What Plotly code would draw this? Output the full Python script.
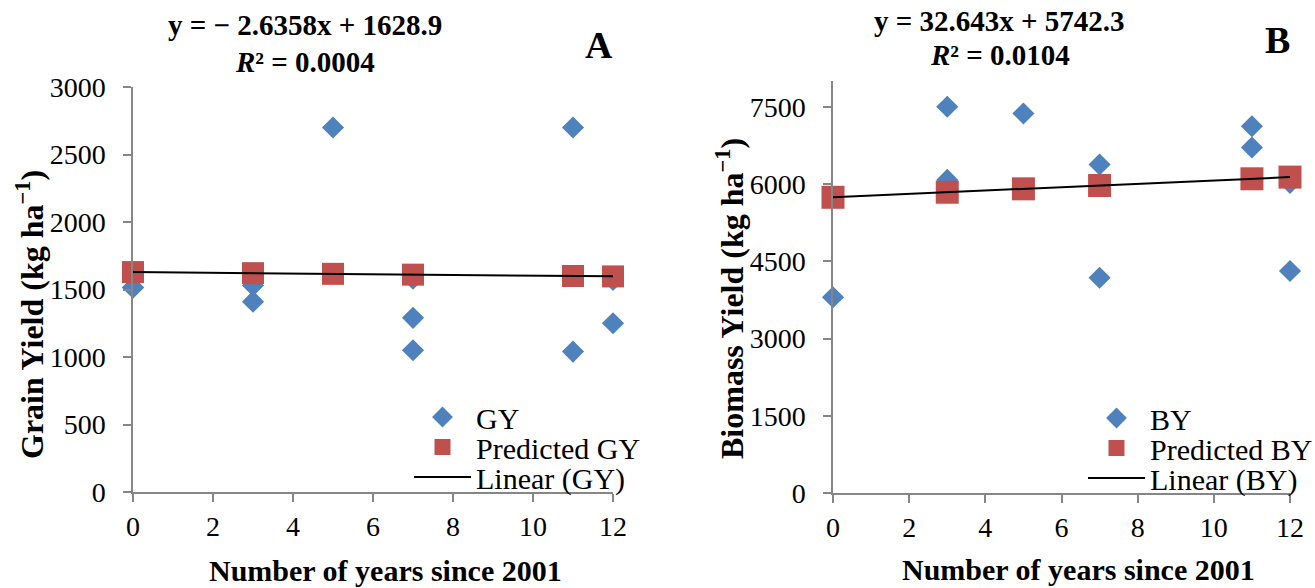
import plotly.graph_objects as go

W, H = 1315, 588

# ---------------- data ----------------
years_gy = [0, 0, 3, 3, 5, 7, 7, 7, 11, 11, 12, 12]
gy = [1515, 1515, 1530, 1410, 2700, 1580, 1290, 1050, 2700, 1040, 1570, 1250]
years_pred = [0, 3, 5, 7, 11, 12]
pred_gy = [1629, 1621, 1616, 1610, 1600, 1597]
trend_x = [0, 12]
trend_gy = [1628.9, 1597.3]

years_by = [0, 3, 3, 5, 7, 7, 11, 11, 12, 12]
by = [3800, 7500, 6080, 7370, 6380, 4180, 7120, 6710, 4310, 6020]
pred_by = [5742, 5840, 5906, 5971, 6101, 6134]
trend_by = [5742.3, 6134.0]

x_ticks = [0, 2, 4, 6, 8, 10, 12]
gy_ticks = [0, 500, 1000, 1500, 2000, 2500, 3000]
by_ticks = [0, 1500, 3000, 4500, 6000, 7500]

eq_a = ["<b>y = − 2.6358x + 1628.9</b>", "<b><i>R</i>² = 0.0004</b>"]
eq_b = ["<b>y = 32.643x + 5742.3</b>", "<b><i>R</i>² = 0.0104</b>"]

BLUE = "#4F81BD"
RED = "#C0504D"
AX = "#868686"
FONT = "Liberation Serif"


def px(x):
    return x / W


def py(y):
    return 1 - y / H


fig = go.Figure()

# Panel A
fig.add_trace(go.Scatter(x=years_gy, y=gy, mode="markers", name="GY", cliponaxis=False,
                         marker=dict(symbol="diamond", size=17, color=BLUE),
                         xaxis="x", yaxis="y", legend="legend", showlegend=True))
fig.add_trace(go.Scatter(x=years_pred, y=pred_gy, mode="markers", name="Predicted GY",
                         cliponaxis=False,
                         marker=dict(symbol="square", size=22, color=RED),
                         xaxis="x", yaxis="y", legend="legend2", showlegend=True))
fig.add_trace(go.Scatter(x=trend_x, y=trend_gy, mode="lines", name="Linear (GY)",
                         line=dict(color="black", width=2),
                         xaxis="x", yaxis="y", legend="legend3", showlegend=True))

# Panel B
fig.add_trace(go.Scatter(x=years_by, y=by, mode="markers", name="BY", cliponaxis=False,
                         marker=dict(symbol="diamond", size=17, color=BLUE),
                         xaxis="x2", yaxis="y2", legend="legend4", showlegend=True))
fig.add_trace(go.Scatter(x=years_pred, y=pred_by, mode="markers", name="Predicted BY",
                         cliponaxis=False,
                         marker=dict(symbol="square", size=23, color=RED),
                         xaxis="x2", yaxis="y2", legend="legend5", showlegend=True))
fig.add_trace(go.Scatter(x=trend_x, y=trend_by, mode="lines", name="Linear (BY)",
                         line=dict(color="black", width=2),
                         xaxis="x2", yaxis="y2", legend="legend6", showlegend=True))

axis_common = dict(showline=True, linecolor=AX, linewidth=1.5, ticks="outside",
                   tickcolor=AX, ticklen=8, tickwidth=1.5, showgrid=False,
                   zeroline=False, tickfont=dict(family=FONT, size=28, color="black"),
                   fixedrange=True, automargin=False)

legend_common = dict(xanchor="left", yanchor="middle", visible=True,
                     font=dict(family=FONT, size=30, color="black"),
                     bgcolor="rgba(0,0,0,0)", tracegroupgap=0, itemsizing="trace",
                     itemwidth=57)

fig.update_layout(
    width=W, height=H,
    showlegend=True,
    margin=dict(l=0, r=0, t=0, b=0, autoexpand=False),
    paper_bgcolor="white", plot_bgcolor="white",
    font=dict(family=FONT, color="black"),
    xaxis=dict(domain=[px(133), px(613)], range=[0, 12], tickvals=x_ticks,
               anchor="y", ticklabelstandoff=1, **axis_common),
    yaxis=dict(domain=[py(492), py(87)], range=[0, 3000], tickvals=gy_ticks,
               anchor="x", ticklabelstandoff=12, **axis_common),
    xaxis2=dict(domain=[px(833), px(1290)], range=[0, 12], tickvals=x_ticks,
                anchor="y2", ticklabelstandoff=1, **axis_common),
    yaxis2=dict(domain=[py(493), py(81)], range=[0, 8000], tickvals=by_ticks,
                anchor="x2", ticklabelstandoff=12, **axis_common),
    legend=dict(x=px(409), y=py(417), **legend_common),
    legend2=dict(x=px(409), y=py(447), **legend_common),
    legend3=dict(x=px(409), y=py(477), **legend_common),
    legend4=dict(x=px(1083), y=py(418), **legend_common),
    legend5=dict(x=px(1083), y=py(448), **legend_common),
    legend6=dict(x=px(1083), y=py(478), **legend_common),
)

ann = []
# equations
ann.append(dict(text=eq_a[0], x=px(305), y=py(25)))
ann.append(dict(text=eq_a[1], x=px(305), y=py(62)))
ann.append(dict(text=eq_b[0], x=px(1000), y=py(21)))
ann.append(dict(text=eq_b[1], x=px(1000), y=py(55)))
for a in ann:
    a.update(xref="paper", yref="paper", showarrow=False, xanchor="center",
             yanchor="middle", font=dict(family=FONT, size=29, color="black"))

letters = [("<b>A</b>", 599, 45), ("<b>B</b>", 1277, 40)]
for t, x, y in letters:
    ann.append(dict(text=t, x=px(x), y=py(y), xref="paper", yref="paper",
                    showarrow=False, xanchor="center", yanchor="middle",
                    font=dict(family=FONT, size=38, color="black")))

axis_titles = [
    ("<b>Grain Yield (kg ha<sup>−1</sup>)</b>", 30, 315, -90, 32),
    ("<b>Biomass Yield (kg ha<sup>−1</sup>)</b>", 730, 299, -90, 32),
    ("<b>Number of years since 2001</b>", 385, 570, 0, 30),
    ("<b>Number of years since 2001</b>", 1078, 569, 0, 30),
]
for t, x, y, ang, fs in axis_titles:
    ann.append(dict(text=t, x=px(x), y=py(y), xref="paper", yref="paper",
                    showarrow=False, xanchor="center", yanchor="middle",
                    textangle=ang, font=dict(family=FONT, size=fs, color="black")))

fig.update_layout(annotations=ann)

fig.write_html("out.html")
